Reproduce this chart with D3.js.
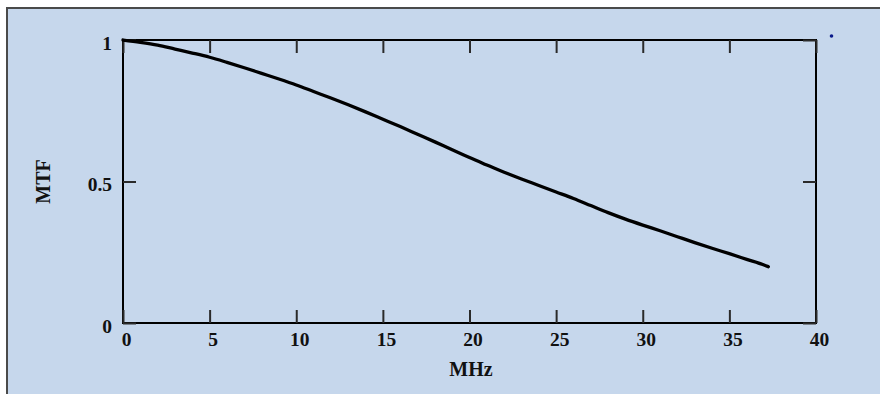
<!DOCTYPE html>
<html>
<head>
<meta charset="utf-8">
<script src="https://cdn.jsdelivr.net/npm/d3@7"></script>
<style>
  body { margin: 0; background: #fff; }
  text { font-family: "Liberation Serif", "Times New Roman", serif; font-weight: bold; }
</style>
</head>
<body>
<div id="chart"></div>
<script>
// MTF curve
const freqMHz = [0, 1, 2, 3, 4, 5, 6, 7, 8, 9, 10, 11, 12, 13, 14, 15, 16, 17, 18, 19,
  20, 21, 22, 23, 24, 25, 26, 27, 28, 29, 30, 31, 32, 33, 34, 35, 36, 37, 37.25];
const mtf = [1, 0.992, 0.982, 0.968, 0.954, 0.939, 0.921, 0.902, 0.882, 0.862, 0.841,
  0.818, 0.795, 0.771, 0.746, 0.72, 0.694, 0.667, 0.64, 0.612, 0.585, 0.558, 0.533,
  0.509, 0.486, 0.463, 0.44, 0.415, 0.39, 0.367, 0.346, 0.326, 0.305, 0.284, 0.264,
  0.245, 0.225, 0.205, 0.199];
const xTicks = [0, 5, 10, 15, 20, 25, 30, 35, 40];
const yTicks = [0, 0.5, 1];
const yTickLabels = ["0", "0.5", "1"];

const width = 880, height = 394;

const svg = d3.select("#chart")
  .append("svg")
  .attr("width", width)
  .attr("height", height);

// panel background
svg.append("rect")
  .attr("x", 7).attr("y", 8)
  .attr("width", width).attr("height", height)
  .attr("fill", "#c6d7ec")
  .attr("stroke", "#4a4a4a")
  .attr("stroke-width", 2);

const x = d3.scaleLinear().domain([0, 40]).range([123, 816]);
const y = d3.scaleLinear().domain([0, 1]).range([323, 40]);

const tickLen = 13;

// frame
svg.append("rect")
  .attr("x", x(0)).attr("y", y(1))
  .attr("width", x(40) - x(0)).attr("height", y(0) - y(1))
  .attr("fill", "none")
  .attr("stroke", "#000")
  .attr("stroke-width", 2);

function styleAxis(g) {
  g.select(".domain").remove();
  g.selectAll(".tick line").attr("stroke", "#2a2a2a").attr("stroke-width", 2);
  g.selectAll(".tick text")
    .attr("fill", "#111")
    .style("font-size", "19.5px")
    .style("font-family", "'Liberation Serif', serif")
    .style("font-weight", "bold");
}

// bottom axis with labels
svg.append("g")
  .attr("transform", `translate(0,${y(0)})`)
  .call(d3.axisBottom(x).tickValues(xTicks).tickSize(-tickLen).tickPadding(0).tickFormat(d3.format("d")))
  .call(styleAxis)
  .call(g => g.selectAll(".tick text").attr("y", 9).attr("dy", "0.71em").attr("dx", 3));

// top axis, ticks only
svg.append("g")
  .attr("transform", `translate(0,${y(1)})`)
  .call(d3.axisTop(x).tickValues(xTicks).tickSize(-tickLen).tickFormat(""))
  .call(styleAxis);

// left axis with labels
svg.append("g")
  .attr("transform", `translate(${x(0)},0)`)
  .call(d3.axisLeft(y).tickValues(yTicks).tickSize(-tickLen).tickPadding(11)
    .tickFormat((d, i) => yTickLabels[i]))
  .call(styleAxis)
  .call(g => g.selectAll(".tick text").attr("dy", "0.47em"));

// right axis, ticks only
svg.append("g")
  .attr("transform", `translate(${x(40)},0)`)
  .call(d3.axisRight(y).tickValues(yTicks).tickSize(-tickLen).tickFormat(""))
  .call(styleAxis);

// curve
const pts = freqMHz.map((f, i) => [f, mtf[i]]);
svg.append("path")
  .datum(pts)
  .attr("fill", "none")
  .attr("stroke", "#000")
  .attr("stroke-width", 3.3)
  .attr("stroke-linejoin", "round")
  .attr("stroke-linecap", "round")
  .attr("d", d3.line().x(d => x(d[0])).y(d => y(d[1])).curve(d3.curveMonotoneX));

// axis titles
svg.append("text")
  .attr("x", 471).attr("y", 376)
  .attr("text-anchor", "middle")
  .style("font-size", "20px")
  .attr("fill", "#111")
  .text("MHz");

svg.append("text")
  .attr("transform", `translate(50,${(y(0) + y(1)) / 2}) rotate(-90)`)
  .attr("text-anchor", "middle")
  .style("font-size", "20px")
  .attr("fill", "#111")
  .text("MTF");

// stray marker at top right
svg.append("circle")
  .attr("cx", 831.5).attr("cy", 36)
  .attr("r", 1.8)
  .attr("fill", "#0a1a8a");
</script>
</body>
</html>
